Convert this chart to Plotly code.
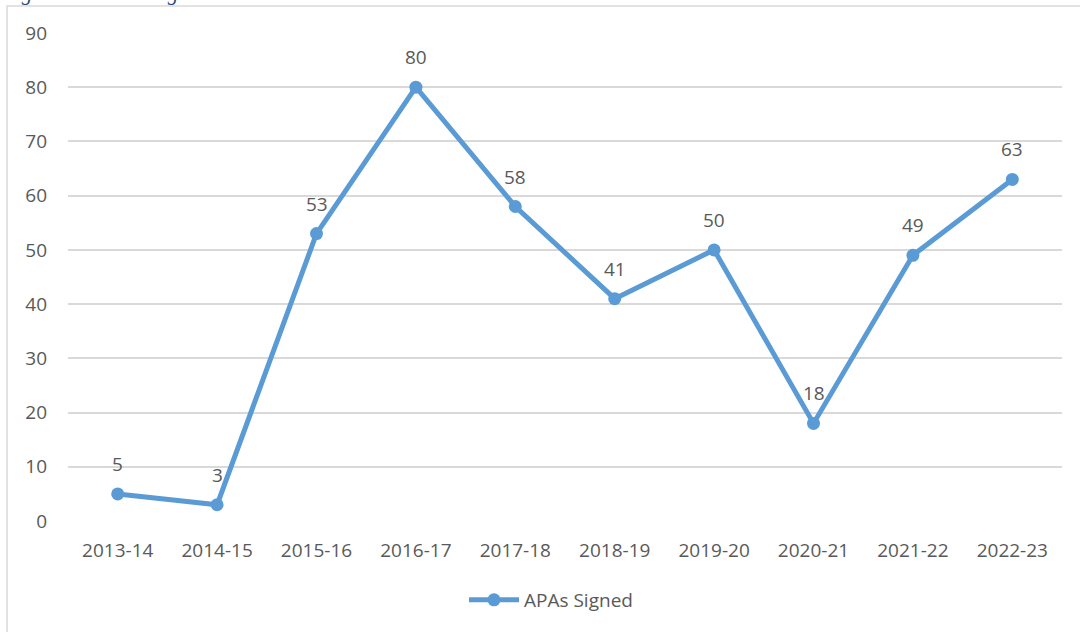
import plotly.graph_objects as go

years = ["2013-14", "2014-15", "2015-16", "2016-17", "2017-18",
         "2018-19", "2019-20", "2020-21", "2021-22", "2022-23"]
apas_signed = [5, 3, 53, 80, 58, 41, 50, 18, 49, 63]
y_ticks = [0, 10, 20, 30, 40, 50, 60, 70, 80, 90]
series_name = "APAs Signed"
caption = "Figure 5-6: APAs signed"

LINE = "#5B9BD5"
TXT = "#595959"
FONT = "Open Sans"
FS = 19

fig = go.Figure()
fig.add_trace(go.Scatter(
    x=years, y=apas_signed, mode="lines+markers", name=series_name,
    line=dict(color=LINE, width=5),
    marker=dict(color=LINE, size=13),
))

for x, v in zip(years, apas_signed):
    fig.add_annotation(x=x, y=v, text=str(v), showarrow=False, yshift=30,
                       yanchor="middle", font=dict(family=FONT, size=FS, color=TXT))

W, H = 1080, 632
ml, mr, mt, mb = 68, 18, 33, 111
pw, ph = W - ml - mr, H - mt - mb

def px_x(p):
    return (p - ml) / pw

def px_y(p):
    return 1 - (p - mt) / ph

fig.add_shape(type="rect", xref="paper", yref="paper",
              x0=px_x(7), x1=px_x(1100), y0=px_y(660), y1=px_y(6),
              line=dict(color="#D9D9D9", width=1.5), fillcolor="rgba(0,0,0,0)", layer="below")

fig.add_annotation(xref="paper", yref="paper", x=px_x(0), y=px_y(7), xanchor="left",
                   yanchor="bottom", text="<i>" + caption + "</i>", showarrow=False,
                   font=dict(family="Liberation Serif", size=21, color="#2F4A7A"))

fig.update_layout(
    width=W, height=H,
    margin=dict(l=ml, r=mr, t=mt, b=mb),
    paper_bgcolor="white", plot_bgcolor="white",
    font=dict(family=FONT, size=FS, color=TXT),
    showlegend=True,
    legend=dict(orientation="h", x=px_x(551), xanchor="center", y=px_y(600), yanchor="middle",
                font=dict(family=FONT, size=FS, color=TXT), itemwidth=50),
    xaxis=dict(type="category", showgrid=False, zeroline=False, showline=False,
               ticks="", ticklabelstandoff=16, range=[-0.5, 9.5]),
    yaxis=dict(range=[0, 90], tickvals=y_ticks, showgrid=True, gridcolor="#D9D9D9",
               gridwidth=1.5, zeroline=False, showline=False, ticks="",
               ticklabelstandoff=20),
)

fig.write_html("out.html", config={"displayModeBar": False},
               post_script="document.body.style.margin='0';")
